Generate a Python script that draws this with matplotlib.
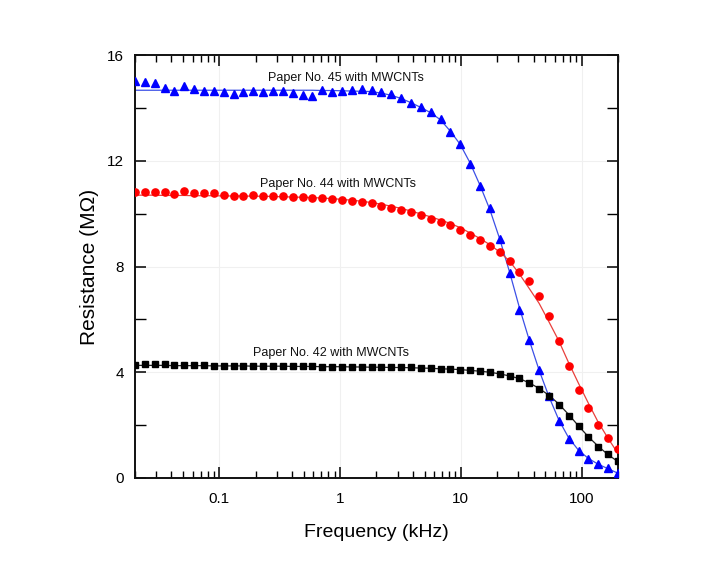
import matplotlib
matplotlib.use("Agg")
import matplotlib.pyplot as plt
from matplotlib.ticker import FixedLocator, LogLocator, NullFormatter, FixedFormatter

plt.rcParams['font.family'] = ['Liberation Sans', 'DejaVu Sans']

# Frequency (kHz)
freq = [0.02, 0.02414, 0.02913, 0.03515, 0.04242, 0.05119, 0.06178, 0.07455, 0.08997, 0.1086,
        0.1310, 0.1581, 0.1908, 0.2303, 0.2779, 0.3354, 0.4047, 0.4884, 0.5894, 0.7113,
        0.8584, 1.036, 1.250, 1.508, 1.820, 2.197, 2.651, 3.199, 3.861, 4.659,
        5.623, 6.786, 8.189, 9.882, 11.926, 14.392, 17.368, 20.959, 25.293, 30.524,
        36.836, 44.453, 53.645, 64.738, 78.125, 94.280, 113.776, 137.304, 165.696, 200.0]

# Paper No. 45 (blue triangles)
r45 = [15.02, 14.99, 14.93, 14.74, 14.66, 14.83, 14.71, 14.64, 14.65, 14.59,
       14.51, 14.59, 14.66, 14.61, 14.63, 14.66, 14.55, 14.49, 14.46, 14.68,
       14.61, 14.64, 14.68, 14.70, 14.68, 14.61, 14.51, 14.36, 14.19, 14.04,
       13.85, 13.60, 13.10, 12.63, 11.87, 11.06, 10.20, 9.03, 7.77, 6.37,
       5.22, 4.08, 3.10, 2.15, 1.48, 1.01, 0.72, 0.52, 0.38, 0.18]
fit45 = [14.67, 14.67, 14.67, 14.67, 14.67, 14.67, 14.67, 14.67, 14.67, 14.67,
         14.67, 14.67, 14.67, 14.67, 14.67, 14.67, 14.67, 14.67, 14.67, 14.66,
         14.66, 14.65, 14.64, 14.63, 14.62, 14.56, 14.48, 14.36, 14.20, 14.02,
         13.82, 13.55, 13.12, 12.62, 11.92, 11.08, 10.16, 9.05, 7.80, 6.45,
         5.22, 4.08, 3.08, 2.20, 1.52, 1.05, 0.74, 0.52, 0.35, 0.18]

# Paper No. 44 (red circles)
r44 = [10.83, 10.83, 10.81, 10.81, 10.75, 10.87, 10.78, 10.77, 10.78, 10.70,
       10.68, 10.66, 10.70, 10.68, 10.68, 10.66, 10.63, 10.63, 10.60, 10.58,
       10.55, 10.53, 10.48, 10.43, 10.39, 10.30, 10.20, 10.13, 10.05, 9.96,
       9.80, 9.67, 9.56, 9.39, 9.19, 9.00, 8.79, 8.55, 8.22, 7.80,
       7.45, 6.87, 6.14, 5.19, 4.24, 3.32, 2.63, 2.00, 1.51, 1.09]
fit44 = [10.70, 10.70, 10.70, 10.69, 10.69, 10.69, 10.68, 10.68, 10.68, 10.67,
         10.67, 10.67, 10.66, 10.66, 10.65, 10.64, 10.63, 10.62, 10.61, 10.59,
         10.57, 10.54, 10.51, 10.47, 10.42, 10.36, 10.28, 10.20, 10.10, 9.99,
         9.88, 9.76, 9.63, 9.47, 9.27, 9.06, 8.83, 8.55, 8.21, 7.72,
         7.17, 6.61, 5.91, 5.19, 4.36, 3.58, 2.83, 2.11, 1.50, 0.93]

# Paper No. 42 (black squares)
r42 = [4.27, 4.30, 4.30, 4.30, 4.29, 4.29, 4.27, 4.26, 4.25, 4.25,
       4.24, 4.24, 4.24, 4.23, 4.23, 4.23, 4.22, 4.22, 4.22, 4.21,
       4.21, 4.21, 4.20, 4.20, 4.19, 4.19, 4.19, 4.18, 4.18, 4.16,
       4.15, 4.12, 4.12, 4.10, 4.08, 4.04, 4.01, 3.95, 3.86, 3.79,
       3.58, 3.37, 3.12, 2.77, 2.36, 1.95, 1.54, 1.19, 0.89, 0.65]
fit42 = [4.26, 4.26, 4.26, 4.26, 4.25, 4.25, 4.25, 4.25, 4.24, 4.24,
         4.24, 4.24, 4.23, 4.23, 4.23, 4.23, 4.22, 4.22, 4.22, 4.21,
         4.21, 4.21, 4.20, 4.20, 4.19, 4.19, 4.18, 4.18, 4.17, 4.16,
         4.15, 4.13, 4.12, 4.10, 4.07, 4.04, 4.00, 3.94, 3.86, 3.76,
         3.60, 3.39, 3.13, 2.80, 2.40, 1.97, 1.56, 1.20, 0.88, 0.62]

labels = ["Paper No. 45 with MWCNTs", "Paper No. 44 with MWCNTs", "Paper No. 42 with MWCNTs"]
label_pos = [(1.12, 15.15), (0.96, 11.12), (0.84, 4.74)]

xticks = [0.1, 1, 10, 100]
xticklabels = ["0.1", "1", "10", "100"]
yticks = [0, 4, 8, 12, 16]

fig = plt.figure(figsize=(7.03, 5.68), dpi=100)
fig.patch.set_facecolor('white')
ax = fig.add_axes([0.192, 0.1585, 0.687, 0.7445])

ax.plot(freq, fit45, '-', color='#3c50e6', lw=0.9, zorder=2)
ax.plot(freq, r45, '^', color='#0000ff', ms=6, mec='#0000ff', lw=0, zorder=3)
ax.plot(freq, fit44, '-', color='#e8403c', lw=0.9, zorder=2)
ax.plot(freq, r44, 'o', color='#ff0000', ms=5.2, mec='#ff0000', lw=0, zorder=3)
ax.plot(freq, fit42, '-', color='#222222', lw=0.9, zorder=2)
ax.plot(freq, r42, 's', color='#000000', ms=4, lw=0, zorder=3)

for t, (x, y) in zip(labels, label_pos):
    ax.text(x, y, t, fontsize=9, ha='center', va='center', color='#111111')

ax.set_xscale('log')
ax.set_xlim(0.02, 200)
ax.set_ylim(0, 16)

ax.xaxis.set_major_locator(FixedLocator(xticks))
ax.xaxis.set_major_formatter(FixedFormatter(xticklabels))
ax.xaxis.set_minor_locator(LogLocator(base=10, subs=range(2, 10), numticks=20))
ax.xaxis.set_minor_formatter(NullFormatter())
ax.yaxis.set_major_locator(FixedLocator(yticks))
ax.yaxis.set_minor_locator(FixedLocator([2, 6, 10, 14]))

ax.tick_params(axis='x', which='major', direction='in', length=8, width=1.1,
               top=True, bottom=True, labelsize=11, pad=10)
ax.tick_params(axis='x', which='minor', direction='in', length=5, width=1.0,
               top=True, bottom=True)
ax.tick_params(axis='y', which='major', direction='in', length=8, width=1.1,
               left=True, right=True, labelsize=11, pad=8)
ax.tick_params(axis='y', which='minor', direction='in', length=8, width=1.0,
               left=True, right=True)

for s in ax.spines.values():
    s.set_linewidth(1.4)
    s.set_color('#111111')

ax.grid(True, which='major', color='#f0f0f0', lw=0.8, zorder=0)
ax.set_axisbelow(True)

ax.set_xlabel("Frequency (kHz)", fontsize=14, labelpad=13)
ax.set_ylabel("Resistance (MΩ)", fontsize=15, labelpad=6)

fig.savefig("out.png", dpi=100)
